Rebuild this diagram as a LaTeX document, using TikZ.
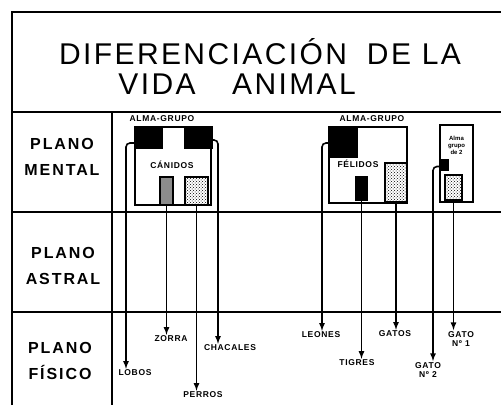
\documentclass[tikz,border=0pt]{standalone}
\usepackage{fontspec}
\setmainfont{Liberation Sans}
\usepackage{tikz}
\usetikzlibrary{positioning,arrows,patterns}

\begin{document}
\begin{tikzpicture}[x=1pt,y=-1pt,
    rule/.style={line width=2.2pt},
    conn/.style={line width=1.6pt,-latex,rounded corners=4pt},
    box/.style={draw,line width=1.5pt,inner sep=0pt},
    dark/.style={box,fill=black},
    dots/.style={box,pattern=crosshatch dots},
    tag/.style={font=\fontsize{8.5}{9.5}\selectfont\bfseries\addfontfeature{LetterSpace=8},inner sep=1pt,align=center},
    plano/.style={font=\fontsize{16}{26}\selectfont\bfseries\addfontfeature{LetterSpace=12},align=center},
    big/.style={font=\fontsize{30}{34}\selectfont\addfontfeature{LetterSpace=8},inner sep=0pt,anchor=base}]
    \useasboundingbox (0,0) rectangle (501,405);

    % frame and rows
    \draw[rule] (12,405) -- (12,12) -- (501,12);
    \draw[rule] (12,112) -- (501,112);
    \draw[rule] (12,212) -- (501,212);
    \draw[rule] (12,312) -- (501,312);
    \draw[rule] (112,112) -- (112,405);

    % title
    \node[big] (title) at (260,64) {DIFERENCIACIÓN\hspace{20pt}DE LA};
    \node[big] (vida) at (157,94) {VIDA};
    \node[big] (animal) at (294,94) {ANIMAL};

    \node[plano] (mental) at (62,157) {PLANO\\MENTAL};
    \node[plano] (astral) at (63,266) {PLANO\\ASTRAL};
    \node[plano] (fisico) at (60,361) {PLANO\\FÍSICO};

    % alma-grupo de los canidos
    \node[tag] (ag1) at (162,119) {ALMA-GRUPO};
    \node[box, minimum width=76pt, minimum height=78pt] (g1) at (173,166) {};
    \node[dark, minimum width=27pt, minimum height=21pt] (d1) at (148.5,137.5) {};
    \node[dark, minimum width=27pt, minimum height=21pt] (d2) at (198.5,137.5) {};
    \node[tag] (canidos) at (172,165) {CÁNIDOS};
    \node[box, fill=black!45, minimum width=13pt, minimum height=28pt] (zbox) at (166.5,191) {};
    \node[dots, minimum width=23pt, minimum height=28pt] (pbox) at (196.5,191) {};

    % alma-grupo de los felidos
    \node[tag] (ag2) at (372,119) {ALMA-GRUPO};
    \node[box, minimum width=78pt, minimum height=76pt] (g2) at (368,165) {};
    \node[dark, minimum width=28pt, minimum height=30pt] (d3) at (343,142) {};
    \node[tag] (felidos) at (358,164) {FÉLIDOS};
    \node[dark, minimum width=11pt, minimum height=23pt] (tbox) at (361.5,188.5) {};
    \node[dots, minimum width=22pt, minimum height=39pt] (gbox) at (396,182.5) {};

    % alma-grupo de 2
    \node[box, minimum width=33pt, minimum height=77pt] (g3) at (456.5,163.5) {};
    \node[tag, font=\fontsize{6}{7}\selectfont\bfseries] (ag3) at (456.5,145) {Alma\\grupo\\de 2};
    \node[dark, minimum width=8pt, minimum height=10pt] (d4) at (444,165) {};
    \node[dots, minimum width=17pt, minimum height=25pt] (ibox) at (453.5,187.5) {};

    % especies
    \node[tag] (lobos) at (135,373) {LOBOS};
    \node[tag] (zorra) at (171,339) {ZORRA};
    \node[tag] (perros) at (203,395) {PERROS};
    \node[tag] (chacales) at (230,348) {CHACALES};
    \node[tag] (leones) at (321,335) {LEONES};
    \node[tag] (tigres) at (357,363) {TIGRES};
    \node[tag] (gatos) at (395,334) {GATOS};
    \node[tag] (gato2) at (428,370) {GATO\\Nº 2};
    \node[tag] (gato1) at (461,339) {GATO\\Nº 1};

    \draw[conn] ([yshift=23pt]g1.west) -| ([xshift=-9pt]lobos.north);
    \draw[conn] (zbox.south) -- (zbox.south |- zorra.north);
    \draw[conn] (pbox.south) -- (pbox.south |- perros.north);
    \draw[conn] ([yshift=26pt]g1.east) -| ([xshift=-12pt]chacales.north);
    \draw[conn] ([yshift=22pt]g2.west) -| ([xshift=1pt]leones.north);
    \draw[conn] (tbox.south) -- (tbox.south |- tigres.north);
    \draw[conn] (gbox.south) -- (gbox.south |- gatos.north);
    \draw[conn] ([yshift=-3pt]g3.west) -| ([xshift=5pt]gato2.north);
    \draw[conn] (ibox.south) -- (ibox.south |- gato1.north);
\end{tikzpicture}
\end{document}
